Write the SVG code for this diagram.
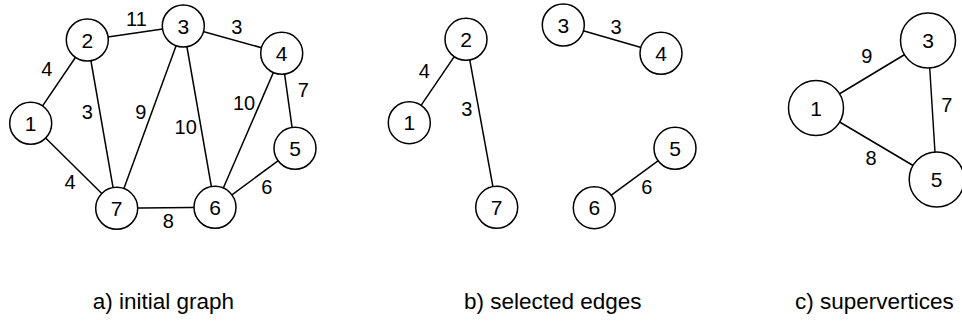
<svg xmlns="http://www.w3.org/2000/svg" width="962" height="322" viewBox="0 0 962 322">
<style>
.e{stroke:#000;stroke-width:1.5;fill:none}
.n circle{fill:#fff;stroke:#000;stroke-width:1.5}
.n text{font-family:"Liberation Sans",Arial,sans-serif;font-size:21px;text-anchor:middle;fill:#000}
.l{font-family:"Liberation Sans",Arial,sans-serif;font-size:20px;text-anchor:middle;fill:#000}
.cap{font-family:"Liberation Sans",Arial,sans-serif;font-size:22.5px;fill:#000}
</style>
<rect width="962" height="322" fill="#fff"/>
<g id="connectors">
<line class="e" x1="30.7" y1="123.3" x2="87.3" y2="40"/>
<line class="e" x1="30.7" y1="123.3" x2="116.7" y2="208.3"/>
<line class="e" x1="87.3" y1="40" x2="183.3" y2="26"/>
<line class="e" x1="87.3" y1="40" x2="116.7" y2="208.3"/>
<line class="e" x1="183.3" y1="26" x2="281.7" y2="53.3"/>
<line class="e" x1="183.3" y1="26" x2="116.7" y2="208.3"/>
<line class="e" x1="183.3" y1="26" x2="215" y2="207.3"/>
<line class="e" x1="281.7" y1="53.3" x2="215" y2="207.3"/>
<line class="e" x1="281.7" y1="53.3" x2="295" y2="148.3"/>
<line class="e" x1="295" y1="148.3" x2="215" y2="207.3"/>
<line class="e" x1="116.7" y1="208.3" x2="215" y2="207.3"/>
<line class="e" x1="409.3" y1="122.7" x2="466" y2="39.3"/>
<line class="e" x1="466" y1="39.3" x2="496.7" y2="207.3"/>
<line class="e" x1="563.3" y1="25" x2="661" y2="53.3"/>
<line class="e" x1="675" y1="148.3" x2="594.3" y2="207.7"/>
<line class="e" x1="816" y1="108" x2="928" y2="40.5"/>
<line class="e" x1="928" y1="40.5" x2="936.7" y2="179.5"/>
<line class="e" x1="816" y1="108" x2="936.7" y2="179.5"/>
</g>
<g id="edge-labels">
<text class="l" x="136.5" y="25.5">11</text>
<text class="l" x="236.7" y="33.5">3</text>
<text class="l" x="46.7" y="75.5">4</text>
<text class="l" x="87.3" y="119">3</text>
<text class="l" x="140.7" y="119">9</text>
<text class="l" x="185.7" y="134">10</text>
<text class="l" x="244" y="109.5">10</text>
<text class="l" x="303.3" y="96.5">7</text>
<text class="l" x="70" y="188.5">4</text>
<text class="l" x="266.7" y="194">6</text>
<text class="l" x="168.3" y="228">8</text>
<text class="l" x="424.3" y="77.5">4</text>
<text class="l" x="466.7" y="115.5">3</text>
<text class="l" x="616" y="34">3</text>
<text class="l" x="646.7" y="193.5">6</text>
<text class="l" x="866.7" y="62.5">9</text>
<text class="l" x="946.7" y="111.5">7</text>
<text class="l" x="871" y="164.5">8</text>
</g>
<g id="a1" class="n"><circle cx="30.7" cy="123.3" r="21"/><text x="30.7" y="130.8">1</text></g>
<g id="a2" class="n"><circle cx="87.3" cy="40" r="21"/><text x="87.3" y="47.5">2</text></g>
<g id="a3" class="n"><circle cx="183.3" cy="26" r="21"/><text x="183.3" y="33.5">3</text></g>
<g id="a4" class="n"><circle cx="281.7" cy="53.3" r="21"/><text x="281.7" y="60.8">4</text></g>
<g id="a5" class="n"><circle cx="295" cy="148.3" r="21"/><text x="295" y="155.8">5</text></g>
<g id="a6" class="n"><circle cx="215" cy="207.3" r="21"/><text x="215" y="214.8">6</text></g>
<g id="a7" class="n"><circle cx="116.7" cy="208.3" r="21"/><text x="116.7" y="215.8">7</text></g>
<g id="b1" class="n"><circle cx="409.3" cy="122.7" r="21"/><text x="409.3" y="130.2">1</text></g>
<g id="b2" class="n"><circle cx="466" cy="39.3" r="21"/><text x="466" y="46.8">2</text></g>
<g id="b3" class="n"><circle cx="563.3" cy="25" r="21"/><text x="563.3" y="32.5">3</text></g>
<g id="b4" class="n"><circle cx="661" cy="53.3" r="21"/><text x="661" y="60.8">4</text></g>
<g id="b5" class="n"><circle cx="675" cy="148.3" r="21"/><text x="675" y="155.8">5</text></g>
<g id="b6" class="n"><circle cx="594.3" cy="207.7" r="21"/><text x="594.3" y="215.2">6</text></g>
<g id="b7" class="n"><circle cx="496.7" cy="207.3" r="21"/><text x="496.7" y="214.8">7</text></g>
<g id="c1" class="n"><circle cx="816" cy="108" r="27.5"/><text x="816" y="115.5">1</text></g>
<g id="c3" class="n"><circle cx="928" cy="40.5" r="27.5"/><text x="928" y="48">3</text></g>
<g id="c5" class="n"><circle cx="936.7" cy="179.5" r="27.5"/><text x="936.7" y="187">5</text></g>
<g id="captions">
<text class="cap" x="92.7" y="309">a) initial graph</text>
<text class="cap" x="464" y="309">b) selected edges</text>
<text class="cap" x="795" y="309">c) supervertices</text>
</g>
</svg>
